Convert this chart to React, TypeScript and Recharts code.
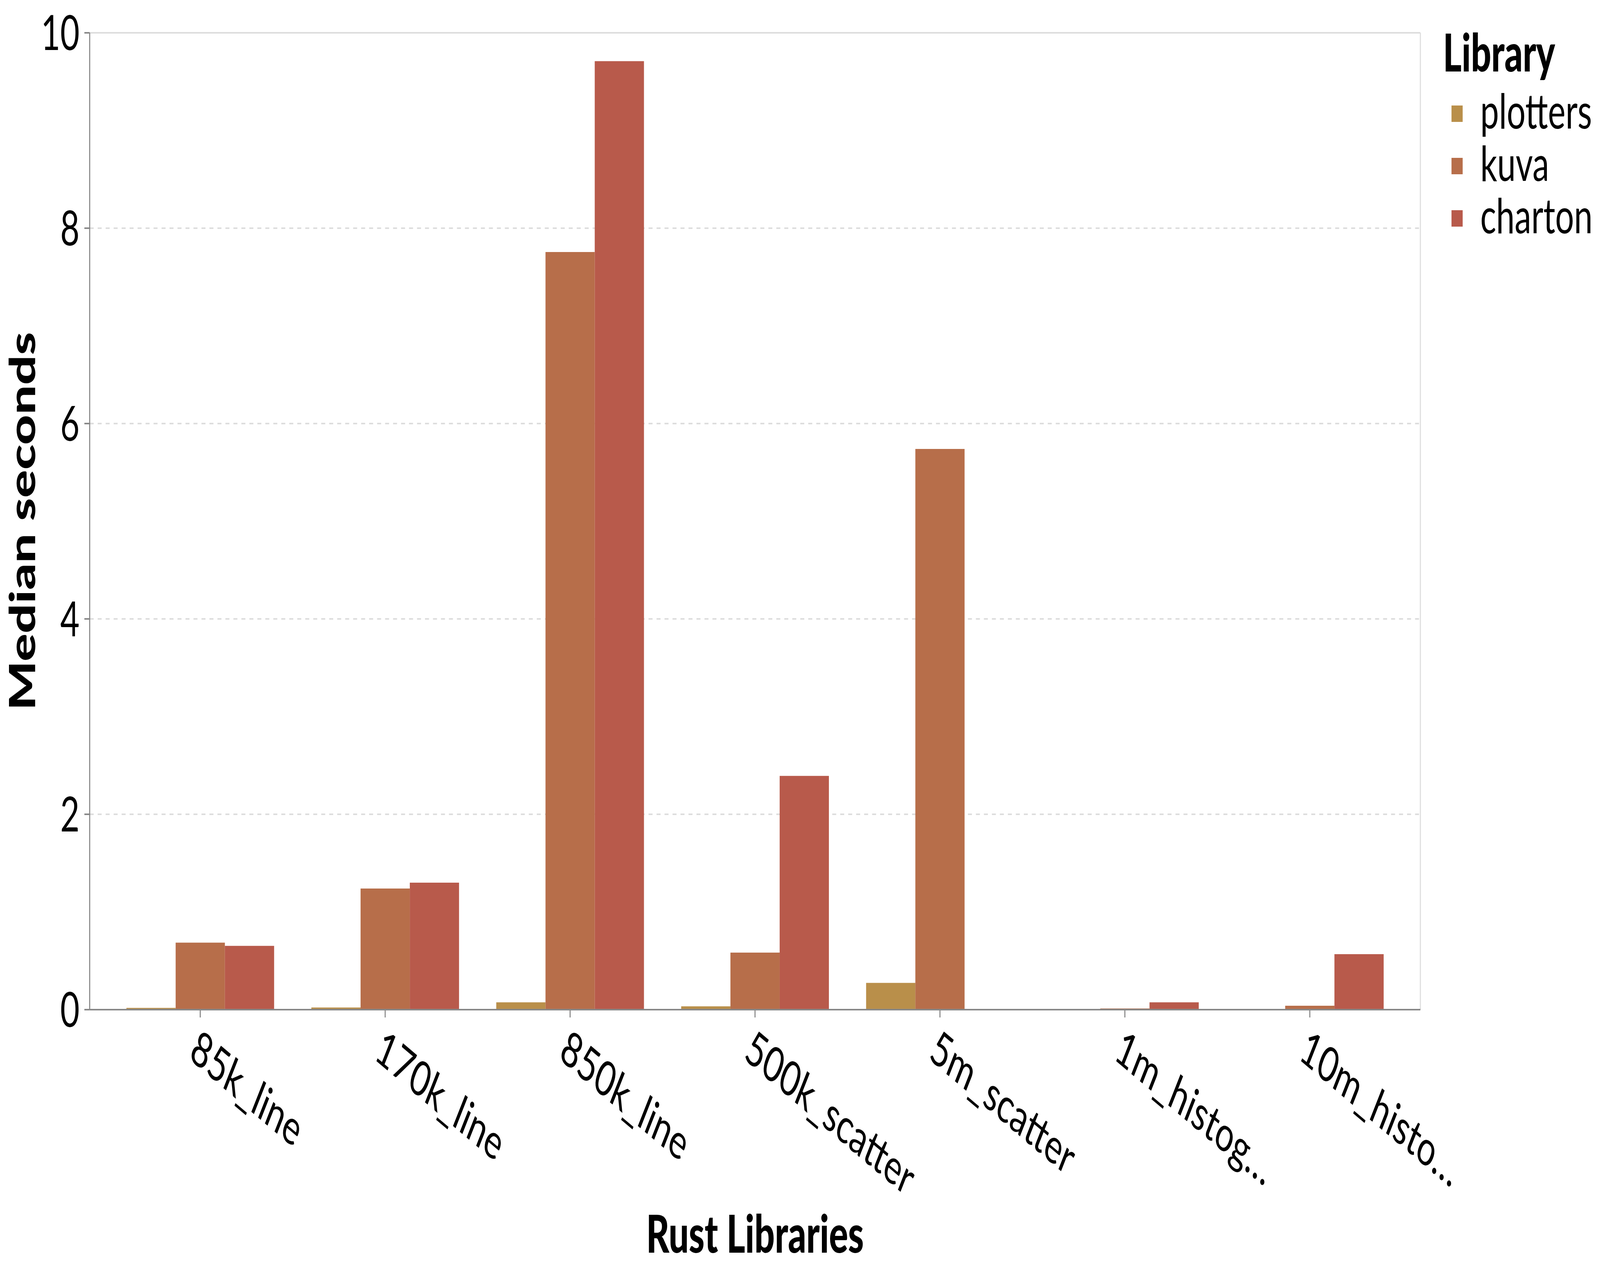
import * as React from 'react'
import { BarChart, Bar, XAxis, YAxis, CartesianGrid, Label } from 'recharts'

// benchmark names as printed on the x axis (long ones are cut like in the source)
const categories = ['85k_line', '170k_line', '850k_line', '500k_scatter', '5m_scatter', '1m_histog…', '10m_histo…']

// median seconds per library
const plotters = [0.018, 0.022, 0.075, 0.034, 0.274, 0.004, 0.004]
const kuva     = [0.686, 1.24, 7.756, 0.584, 5.74, 0.012, 0.04]
const charton  = [0.653, 1.30, 9.71, 2.393, null, 0.075, 0.568]

const yTicks = [0, 2, 4, 6, 8, 10]

const series = [
  { key: 'plotters', color: '#B98F4A', values: plotters },
  { key: 'kuva',     color: '#B76E4A', values: kuva },
  { key: 'charton',  color: '#B85A4B', values: charton },
]

const data = categories.map((name, i) => ({
  name,
  plotters: plotters[i],
  kuva: kuva[i],
  charton: charton[i],
}))

const FONT = 'Lato, "Open Sans", sans-serif'
const W = 6012
const H = 3258

function XTick({ x, y, payload }: any) {
  return (
    <g transform={`translate(${x},${y})`}>
      <text
        transform="rotate(30)"
        x={0}
        y={0}
        dy="0.74em"
        textAnchor="start"
        fontSize={125}
        fontFamily={FONT}
        fill="#000"
      >
        {payload.value}
      </text>
    </g>
  )
}

function YTitle({ viewBox }: any) {
  const cx = viewBox.x + 80
  const cy = viewBox.y + viewBox.height / 2
  return (
    <text
      x={cx}
      y={cy}
      transform={`rotate(-90 ${cx} ${cy})`}
      textAnchor="middle"
      dominantBaseline="central"
      fontSize={134}
      fontWeight={900}
      fontFamily={FONT}
      fill="#000"
    >
      Median seconds
    </text>
  )
}

function XTitle({ viewBox }: any) {
  return (
    <text
      x={viewBox.x + viewBox.width / 2}
      y={viewBox.y + 622}
      textAnchor="middle"
      fontSize={134}
      fontWeight={900}
      fontFamily={FONT}
      fill="#000"
    >
      Rust Libraries
    </text>
  )
}

// plot frame: top and right edges, placed from the chart's own offset
const frameTop = ({ offset }: any) => [offset.top]
const frameRight = ({ offset }: any) => [offset.left + offset.width]

function LegendBox() {
  return (
    <svg
      width={612}
      height={640}
      style={{ position: 'absolute', left: 5400, top: 0 }}
    >
      <text x={22} y={183} fontSize={134} fontWeight={900} fontFamily={FONT} fill="#000">
        Library
      </text>
      {series.map((s, i) => {
        const cy = 291 + i * 134
        return (
          <g key={s.key}>
            <rect x={54} y={cy - 21} width={42} height={42} fill={s.color} />
            <text x={162} y={cy + 38} fontSize={125} fontFamily={FONT} fill="#000">
              {s.key}
            </text>
          </g>
        )
      })}
    </svg>
  )
}

export default function App() {
  // the browser may give fewer css pixels than asked for; stretch the drawing onto what it has
  const [fit, setFit] = React.useState({ sx: 1, sy: 1 })
  React.useLayoutEffect(() => {
    const update = () =>
      setFit({ sx: window.innerWidth / W, sy: window.innerHeight / H })
    update()
    window.addEventListener('resize', update)
    return () => window.removeEventListener('resize', update)
  }, [])

  return (
    <div style={{ width: W * fit.sx, height: H * fit.sy, overflow: 'hidden' }}>
      <style>{'html,body{margin:0;overflow:hidden}'}</style>
      <div
        style={{
          position: 'relative',
          width: W,
          height: H,
          background: '#fff',
          transform: `scale(${fit.sx}, ${fit.sy})`,
          transformOrigin: '0 0',
        }}
      >
        <BarChart
          width={W}
          height={H}
          data={data}
          margin={{ top: 84, right: 675, bottom: 0, left: 0 }}
          barGap={0}
          barSize={185}
        >
          <CartesianGrid vertical={false} stroke="#ddd" strokeWidth={4} strokeDasharray="15 15" />
          <CartesianGrid
            stroke="#ddd"
            strokeWidth={4}
            horizontalCoordinatesGenerator={frameTop}
            verticalCoordinatesGenerator={frameRight}
          />
          <XAxis
            dataKey="name"
            height={674}
            padding={{ left: 68, right: 68 }}
            interval={0}
            tickSize={20}
            tickMargin={24}
            tick={<XTick />}
            axisLine={{ stroke: '#888', strokeWidth: 4 }}
            tickLine={{ stroke: '#888', strokeWidth: 4 }}
          >
            <Label content={<XTitle />} />
          </XAxis>
          <YAxis
            width={337}
            domain={[0, 10]}
            ticks={yTicks}
            tickSize={20}
            tickMargin={18}
            tick={{ fontSize: 125, fontFamily: FONT, fill: '#000' }}
            axisLine={{ stroke: '#888', strokeWidth: 4 }}
            tickLine={{ stroke: '#888', strokeWidth: 4 }}
          >
            <Label content={<YTitle />} />
          </YAxis>
          {series.map(s => (
            <Bar key={s.key} dataKey={s.key} fill={s.color} isAnimationActive={false} />
          ))}
        </BarChart>
        <LegendBox />
      </div>
    </div>
  )
}
